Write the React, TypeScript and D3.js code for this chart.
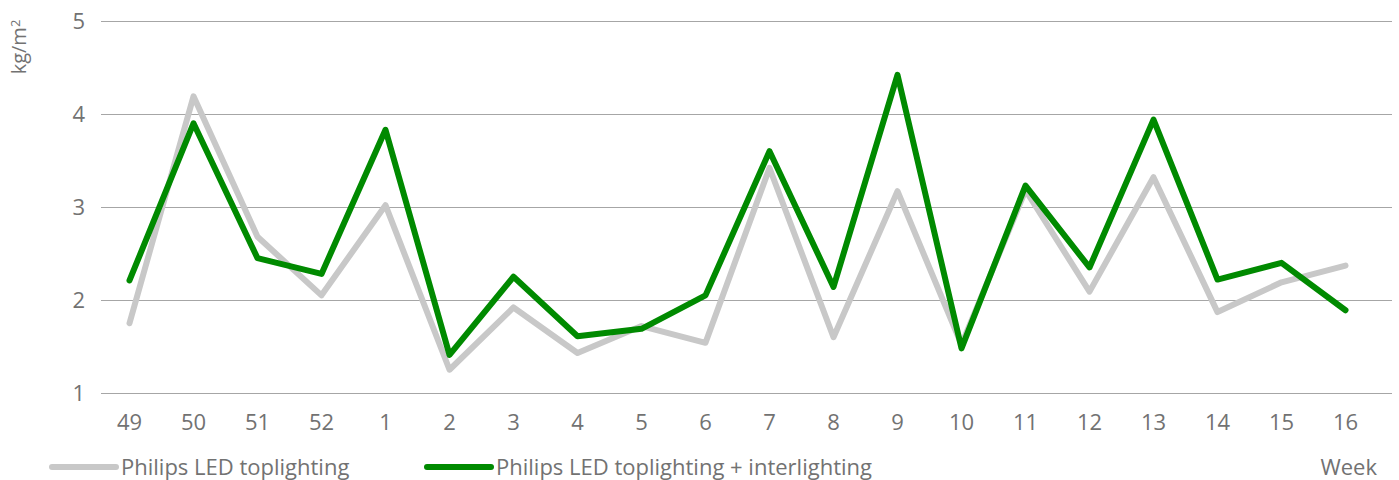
import React, { useEffect, useRef } from 'react';
import * as d3 from 'd3';

const weeks = ['49', '50', '51', '52', '1', '2', '3', '4', '5', '6', '7', '8', '9', '10', '11', '12', '13', '14', '15', '16'];
const toplighting = [1.75, 4.19, 2.68, 2.05, 3.02, 1.25, 1.92, 1.43, 1.72, 1.54, 3.42, 1.60, 3.17, 1.52, 3.18, 2.09, 3.32, 1.87, 2.19, 2.37];
const interlighting = [2.21, 3.90, 2.45, 2.28, 3.83, 1.41, 2.25, 1.61, 1.69, 2.05, 3.60, 2.14, 4.42, 1.48, 3.23, 2.35, 3.94, 2.22, 2.40, 1.89];
const yTicks = [1, 2, 3, 4, 5];
const seriesNames = ['Philips LED toplighting', 'Philips LED toplighting + interlighting'];

export default function App() {
  const svgRef = useRef<SVGSVGElement>(null);

  useEffect(() => {
    const W = 1399;
    const H = 480;
    const gridLeft = 101;
    const gridRight = 1392;
    const textColor = '#727272';
    const font = "'Open Sans', sans-serif";
    const fs = '22px';

    const svg = d3.select(svgRef.current);
    svg.selectAll('*').remove();
    svg.attr('width', W).attr('height', H);

    const x = d3.scalePoint<string>().domain(weeks).range([129.5, 1345.5]);
    const y = d3.scaleLinear().domain([1, 5]).range([393, 21]);

    // gridlines
    svg.append('g')
      .selectAll('line')
      .data(yTicks)
      .join('line')
      .attr('x1', gridLeft)
      .attr('x2', gridRight)
      .attr('y1', d => y(d) + 0.5)
      .attr('y2', d => y(d) + 0.5)
      .attr('stroke', '#a6a6a6')
      .attr('stroke-width', 1);

    // y tick labels
    svg.append('g')
      .selectAll('text')
      .data(yTicks)
      .join('text')
      .attr('x', 85)
      .attr('y', d => y(d))
      .attr('dy', '0.35em')
      .attr('text-anchor', 'end')
      .attr('fill', textColor)
      .style('font-family', font)
      .style('font-size', fs)
      .text(d => d);

    // y axis label
    const yl = svg.append('text')
      .attr('transform', 'translate(26,47) rotate(-90)')
      .attr('text-anchor', 'middle')
      .attr('fill', textColor)
      .style('font-family', font)
      .style('font-size', '20px');
    yl.append('tspan').text('kg/m');
    yl.append('tspan').attr('dy', '-0.5em').style('font-size', '13px').text('2');

    // x tick labels
    svg.append('g')
      .selectAll('text')
      .data(weeks)
      .join('text')
      .attr('x', d => x(d)!)
      .attr('y', 422)
      .attr('dy', '0.35em')
      .attr('text-anchor', 'middle')
      .attr('fill', textColor)
      .style('font-family', font)
      .style('font-size', fs)
      .text(d => d);

    const line = d3.line<number>()
      .x((_, i) => x(weeks[i])!)
      .y(d => y(d));

    const series = [
      { values: toplighting, color: '#c8c8c8' },
      { values: interlighting, color: '#008a00' },
    ];

    svg.append('g')
      .selectAll('path')
      .data(series)
      .join('path')
      .attr('d', d => line(d.values))
      .attr('fill', 'none')
      .attr('stroke', d => d.color)
      .attr('stroke-width', 6)
      .attr('stroke-linejoin', 'round')
      .attr('stroke-linecap', 'round');

    // legend
    const legendX = [52, 427];
    const lg = svg.append('g')
      .selectAll('g')
      .data(series)
      .join('g')
      .attr('transform', (_, i) => `translate(${legendX[i]},467)`);
    lg.append('line')
      .attr('x1', 0)
      .attr('x2', 64)
      .attr('stroke', d => d.color)
      .attr('stroke-width', 6)
      .attr('stroke-linecap', 'round');
    lg.append('text')
      .attr('x', 69)
      .attr('dy', '0.35em')
      .attr('fill', textColor)
      .style('font-family', font)
      .style('font-size', fs)
      .text((_, i) => seriesNames[i]);

    svg.append('text')
      .attr('x', 1377)
      .attr('y', 467)
      .attr('dy', '0.35em')
      .attr('text-anchor', 'end')
      .attr('fill', textColor)
      .style('font-family', font)
      .style('font-size', fs)
      .text('Week');
  }, []);

  return (
    <svg
      ref={svgRef}
      style={{ position: 'absolute', left: 0, top: 0, display: 'block', background: '#fff' }}
    />
  );
}
